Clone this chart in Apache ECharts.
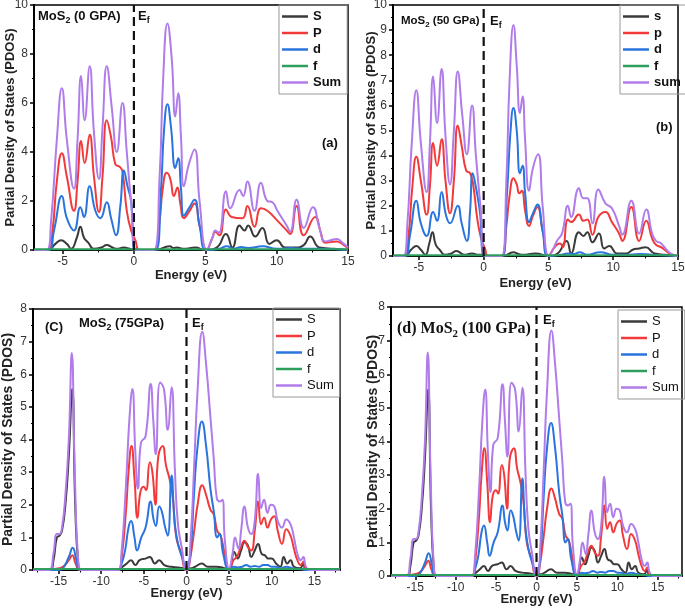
<!DOCTYPE html>
<html>
<head>
<meta charset="UTF-8">
<title>MoS2 PDOS</title>
<script src="https://cdn.jsdelivr.net/npm/echarts@6/dist/echarts.min.js"></script>
</head>
<body style="margin:0;background:#fff">
<div id="main" style="width:685px;height:613px;"></div>
<script type="text/javascript">
var myChart = echarts.init(document.getElementById('main'));

// ---- data: [energy (eV), PDOS] ----
// (a) 0 GPa
var aS = [[-7,0],[-6.0,0],[-5.5,0.25],[-5.1,0.4],[-4.7,0.25],[-4.4,0.05],[-4.0,0.5],[-3.75,0.95],[-3.5,0.5],[-3.2,0.3],[-2.8,0.05],[-2.3,0.1],[-1.9,0.2],[-1.5,0.1],[-1.2,0.05],[-0.7,0.1],[-0.3,0.05],[0,0],[1.5,0],[2.5,0.15],[2.8,0.08],[3.0,0.1],[3.5,0.05],[4.3,0.1],[5,0],[5.8,0.1],[6.45,0.65],[6.9,0.1],[7.4,1.0],[7.75,0.8],[8.0,1.0],[8.5,0.55],[9.0,0.9],[9.5,0.25],[10.0,0.4],[10.6,0.1],[11.3,0.1],[11.9,0.2],[12.35,0.55],[13.0,0.1],[14,0.05],[15,0]];
var aP = [[-7,0],[-6.0,0],[-5.7,0.8],[-5.4,2.8],[-5.05,3.95],[-4.7,3.0],[-4.2,1.6],[-3.95,2.8],[-3.7,4.45],[-3.45,3.55],[-3.1,4.7],[-2.8,3.0],[-2.45,1.55],[-2.2,3.0],[-1.9,5.3],[-1.6,4.6],[-1.3,3.5],[-1.0,3.4],[-0.8,3.2],[-0.5,1.6],[-0.2,0.8],[0.1,0.4],[0.4,0],[1.4,0],[1.8,1.2],[2.0,2.4],[2.3,3.15],[2.55,2.9],[2.8,2.2],[3.05,2.55],[3.25,1.9],[3.5,1.3],[3.85,1.55],[4.25,1.9],[4.6,1.0],[5.1,0],[5.5,0.5],[5.7,0.75],[6.0,0.6],[6.45,1.65],[6.85,1.35],[7.6,1.3],[7.95,1.8],[8.45,0.95],[8.9,1.7],[9.35,1.6],[10.05,1.2],[10.7,0.8],[10.95,0.65],[11.4,1.8],[11.9,0.6],[12.7,1.35],[13.1,0.7],[13.4,0.3],[14.2,0.35],[14.6,0.25],[15,0.05]];
var aD = [[-7,0],[-6.0,0],[-5.6,0.8],[-5.05,2.2],[-4.7,1.3],[-4.2,0.8],[-3.75,1.75],[-3.5,1.35],[-3.1,2.6],[-2.7,1.6],[-2.35,1.3],[-1.9,1.95],[-1.6,1.3],[-1.25,0.6],[-0.95,1.8],[-0.7,3.25],[-0.45,2.6],[-0.2,2.0],[0.1,0],[1.5,0],[1.9,2.5],[2.1,4.8],[2.35,5.95],[2.6,5.0],[2.9,3.35],[3.1,3.75],[3.3,2.5],[3.5,1.4],[3.85,1.7],[4.25,2.05],[4.6,1.0],[5.1,0],[6.0,0.05],[6.5,0.15],[7.0,0.05],[7.5,0.12],[8.0,0.08],[9.0,0.15],[10,0.05],[11,0.08],[12,0.05],[13,0.05],[15,0]];
var aF = [[-7,0.03],[15,0.03]];
var aSum = [[-7,0],[-6.1,0],[-5.8,1.2],[-5.4,4.5],[-5.05,6.6],[-4.7,4.5],[-4.2,2.5],[-3.95,4.5],[-3.7,7.1],[-3.45,5.3],[-3.1,7.5],[-2.8,4.8],[-2.45,2.9],[-2.2,5.0],[-1.9,7.5],[-1.55,5.8],[-1.2,4.0],[-0.8,6.0],[-0.5,4.0],[-0.2,2.0],[0.2,0],[1.4,0],[1.8,3.0],[2.05,7.0],[2.35,9.25],[2.65,7.8],[2.9,5.45],[3.1,6.4],[3.3,4.6],[3.5,2.6],[3.85,3.5],[4.25,4.1],[4.6,2.0],[5.1,0],[5.5,0.5],[5.7,0.8],[5.95,0.7],[6.45,2.4],[6.75,1.7],[7.4,2.45],[7.65,2.2],[7.95,2.8],[8.45,1.6],[8.9,2.75],[9.35,2.0],[9.7,1.95],[10.05,1.6],[10.7,1.0],[10.95,0.75],[11.4,2.05],[11.9,0.9],[12.55,1.75],[13.0,0.9],[13.4,0.35],[13.8,0.4],[14.2,0.45],[14.6,0.3],[15,0.1]];

// (b) 50 GPa
var bS = [[-7,0],[-6.1,0],[-5.6,0.25],[-5.2,0.4],[-4.85,0.25],[-4.5,0.05],[-4.2,0.5],[-3.95,0.95],[-3.7,0.45],[-3.4,0.25],[-3.0,0.05],[-2.5,0.1],[-2.1,0.2],[-1.5,0.05],[-0.9,0.1],[-0.4,0.05],[0,0.05],[0.3,0],[1.5,0],[2.3,0.15],[2.7,0.08],[3.0,0.05],[4.0,0.1],[5,0],[5.7,0.1],[6.4,0.6],[6.75,0.1],[7.35,0.95],[7.7,0.8],[8.0,0.95],[8.4,0.55],[8.9,0.9],[9.3,0.3],[9.7,0.4],[10.3,0.1],[11.0,0.1],[11.5,0.25],[12.0,0.3],[12.5,0.35],[13.2,0.1],[14,0.05],[15,0]];
var bP = [[-7,0],[-6.1,0],[-5.8,0.8],[-5.5,2.8],[-5.2,3.95],[-4.85,3.0],[-4.4,1.65],[-4.15,2.8],[-3.9,4.5],[-3.6,3.6],[-3.25,4.65],[-2.95,3.0],[-2.6,1.7],[-2.3,3.0],[-2.0,5.2],[-1.7,4.4],[-1.35,3.4],[-1.05,3.3],[-0.8,2.8],[-0.5,1.5],[-0.2,0.7],[0.1,0.3],[0.35,0],[1.4,0],[1.75,1.2],[2.0,2.4],[2.3,3.1],[2.55,2.85],[2.75,2.5],[2.95,2.6],[3.2,1.8],[3.5,1.2],[3.8,1.6],[4.15,1.95],[4.55,1.0],[5.0,0],[5.4,0.3],[5.65,0.45],[5.9,0.5],[6.1,0.35],[6.5,1.45],[6.75,1.35],[7.35,1.65],[7.7,1.4],[8.0,1.45],[8.4,0.85],[8.85,1.55],[9.4,1.75],[9.9,1.35],[10.45,0.9],[10.7,0.6],[11.4,1.95],[12.0,0.6],[12.55,1.4],[13.0,0.7],[13.3,0.45],[13.7,0.35],[14.2,0.15],[14.6,0.02],[15,0]];
var bD = [[-7,0],[-6.1,0],[-5.7,0.8],[-5.2,2.2],[-4.85,1.3],[-4.4,0.8],[-3.9,1.75],[-3.6,1.4],[-3.25,2.55],[-2.9,1.6],[-2.6,1.3],[-2.0,2.0],[-1.7,1.3],[-1.3,0.6],[-1.05,1.8],[-0.85,3.3],[-0.55,2.6],[-0.3,1.8],[0.1,0],[1.4,0],[1.8,2.5],[2.05,4.8],[2.3,5.9],[2.55,5.0],[2.8,3.3],[3.0,3.6],[3.2,2.5],[3.5,1.35],[3.8,1.7],[4.15,2.05],[4.55,1.0],[5.0,0],[6,0.05],[6.5,0.1],[7.0,0.08],[7.4,0.15],[8,0.05],[9,0.15],[10,0.05],[11,0.05],[12,0.08],[13,0.05],[15,0]];
var bF = [[-7,0.03],[15,0.03]];
var bSum = [[-7,0],[-6.2,0],[-5.9,1.2],[-5.55,4.5],[-5.2,6.6],[-4.85,4.5],[-4.4,2.55],[-4.15,4.5],[-3.9,7.15],[-3.6,5.3],[-3.25,7.45],[-2.95,4.8],[-2.6,2.85],[-2.3,5.0],[-2.0,7.35],[-1.65,5.6],[-1.3,4.05],[-0.9,6.0],[-0.6,4.0],[-0.25,2.0],[0.15,0],[1.4,0],[1.75,3.0],[2.0,7.0],[2.3,9.2],[2.55,7.6],[2.8,5.7],[3.0,6.35],[3.2,4.6],[3.5,2.6],[3.8,3.5],[4.2,4.05],[4.55,2.0],[5.0,0],[5.3,0.2],[5.65,0.6],[6.05,0.9],[6.5,2.0],[6.75,1.55],[7.35,2.7],[7.7,2.3],[8.0,2.3],[8.4,1.3],[8.85,2.65],[9.4,2.1],[9.9,1.9],[10.45,1.2],[10.7,0.85],[11.4,2.2],[12.0,0.9],[12.55,1.85],[13.0,0.9],[13.3,0.6],[13.7,0.5],[14.2,0.2],[14.6,0.05],[15,0]];

// (c) 75 GPa and (d) 100 GPa look the same
var cS = [[-18,0],[-16,0],[-15.6,0.3],[-15.2,1.0],[-14.9,1.05],[-14.6,1.2],[-14.2,2.0],[-13.8,3.5],[-13.4,5.55],[-13.05,2.0],[-12.7,0.2],[-12.4,0],[-8.0,0],[-7.5,0.1],[-7.0,0.2],[-6.5,0.3],[-6.0,0.15],[-5.5,0.3],[-4.8,0.35],[-4.3,0.4],[-3.7,0.2],[-3.2,0.3],[-2.6,0.15],[-1.8,0.1],[-1.0,0.08],[0,0.05],[0.5,0.05],[1.0,0.1],[1.8,0.2],[2.5,0.1],[3.5,0.1],[4.5,0.05],[5.0,0],[5.6,0.55],[6.0,0.35],[6.4,0.6],[6.8,0.85],[7.2,0.75],[7.6,0.4],[8.0,0.6],[8.4,0.8],[8.8,0.5],[9.2,0.45],[9.6,0.35],[10.0,0.35],[10.5,0.2],[11.0,0.1],[11.4,0.4],[11.8,0.2],[12.2,0.3],[12.6,0.1],[13.3,0.05],[13.7,0.2],[14.0,0],[18,0]];
var cP = [[-18,0],[-16,0],[-15.5,0.03],[-14.5,0.1],[-13.8,0.3],[-13.4,0.45],[-13.0,0.2],[-12.5,0],[-8.0,0],[-7.6,0.4],[-7.1,1.8],[-6.8,3.0],[-6.45,3.8],[-6.1,2.8],[-5.75,1.6],[-5.4,2.4],[-5.0,2.55],[-4.75,2.45],[-4.3,3.3],[-4.0,3.0],[-3.65,2.0],[-3.3,3.5],[-2.8,3.8],[-2.4,3.2],[-2.0,2.8],[-1.6,2.2],[-1.2,1.0],[-0.6,0.5],[-0.1,0],[0.1,0],[0.4,0.3],[0.9,1.2],[1.3,2.0],[1.85,2.6],[2.3,2.3],[2.8,1.85],[3.2,1.7],[3.6,1.2],[4.0,1.05],[4.4,0.6],[5.0,0],[5.5,0.3],[5.9,0.4],[6.3,0.65],[6.8,0.9],[7.2,0.7],[7.6,0.6],[8.0,1.2],[8.4,2.1],[8.75,1.4],[9.1,1.6],[9.5,1.3],[9.9,1.55],[10.3,1.65],[10.7,1.2],[11.2,0.8],[11.7,1.25],[12.2,1.05],[12.6,0.65],[13.0,0.3],[13.4,0.15],[13.7,0.25],[14.0,0.05],[14.5,0],[18,0]];
var cD = [[-18,0],[-15,0],[-14.5,0.05],[-13.8,0.4],[-13.35,0.68],[-12.9,0.3],[-12.5,0],[-8.0,0],[-7.6,0.2],[-7.2,0.6],[-6.8,1.3],[-6.5,1.5],[-6.1,1.0],[-5.8,0.6],[-5.3,1.0],[-4.8,1.3],[-4.2,2.1],[-3.9,1.6],[-3.6,1.35],[-3.2,1.95],[-2.9,1.8],[-2.5,1.3],[-2.2,1.05],[-1.75,2.9],[-1.4,1.5],[-1.0,0.8],[-0.4,0.3],[0,0],[0.2,0.1],[0.5,0.6],[0.9,2.4],[1.3,3.8],[1.8,4.55],[2.3,3.8],[2.8,2.5],[3.2,1.8],[3.6,1.0],[3.9,1.1],[4.3,0.5],[5.0,0],[5.5,0.1],[6.0,0.08],[6.5,0.1],[7.0,0.15],[7.5,0.1],[8.0,0.12],[8.5,0.1],[9.0,0.15],[9.5,0.15],[10.0,0.1],[10.5,0.1],[11.0,0.05],[11.7,0.1],[12.5,0.05],[13.5,0.02],[14,0],[18,0]];
var cF = [[-18,0.03],[18,0.03]];
var cSum = [[-18,0],[-16.1,0],[-15.6,0.5],[-15.2,1.1],[-14.9,1.1],[-14.6,1.3],[-14.2,2.3],[-13.8,4.0],[-13.45,6.65],[-13.1,3.0],[-12.7,0.3],[-12.3,0],[-8.0,0],[-7.6,0.6],[-7.1,2.6],[-6.7,4.6],[-6.35,5.55],[-6.0,3.6],[-5.7,2.5],[-5.35,3.9],[-4.8,4.1],[-4.2,5.7],[-3.9,4.6],[-3.6,3.55],[-3.1,5.75],[-2.65,5.55],[-2.2,4.3],[-1.75,5.6],[-1.35,3.0],[-1.0,1.4],[-0.5,0.6],[-0.1,0],[0.1,0],[0.5,1.0],[0.9,3.2],[1.3,5.5],[1.85,7.3],[2.3,6.3],[2.8,4.7],[3.2,3.4],[3.55,2.2],[3.9,2.1],[4.2,2.15],[4.5,0.9],[5.0,0.05],[5.4,0.5],[5.7,1.0],[6.1,0.65],[6.4,1.2],[6.8,1.95],[7.2,1.3],[7.6,1.1],[8.0,1.5],[8.4,2.95],[8.75,1.9],[9.1,2.15],[9.5,1.75],[9.9,2.0],[10.3,1.95],[10.7,1.5],[11.2,1.3],[11.7,1.55],[12.2,1.4],[12.6,1.0],[13.0,0.5],[13.4,0.3],[13.7,0.4],[14.0,0.1],[14.5,0],[18,0]];

var namesUpper = ['S', 'P', 'd', 'f', 'Sum'];
var namesLower = ['s', 'p', 'd', 'f', 'sum'];
var ticksAB = [-5, 0, 5, 10, 15];
var minorAB = [-2.5, 2.5, 7.5, 12.5];
var ticksCD = [-15, -10, -5, 0, 5, 10, 15];
var minorCD = [-17.5, -12.5, -7.5, -2.5, 2.5, 7.5, 12.5, 17.5];

var colors = ['#3a3a3a', '#f23a3a', '#2a74de', '#2e9e5c', '#b07cea'];
var font = 'Liberation Sans, Arial, sans-serif';

var panels = [
    {grid: {left: 34, top: 5, width: 314, height: 245}, xr: [-7, 15], ymax: 10, yint: 2, ticks: ticksAB, minor: minorAB,
     data: [aS, aP, aD, aF, aSum], names: namesUpper, yGap: 17, xGap: 19, nameSize: 13},
    {grid: {left: 393, top: 5, width: 285, height: 251}, xr: [-7, 15], ymax: 10, yint: 1, ticks: ticksAB, minor: minorAB,
     data: [bS, bP, bD, bF, bSum], names: namesLower, yGap: 15, xGap: 21, nameSize: 13},
    {grid: {left: 33, top: 309, width: 307, height: 261}, xr: [-18, 18], ymax: 8, yint: 1, ticks: ticksCD, minor: minorCD,
     data: [cS, cP, cD, cF, cSum], names: namesUpper, yGap: 18, xGap: 17, nameSize: 14},
    {grid: {left: 391, top: 307, width: 291, height: 269}, xr: [-18, 18], ymax: 8, yint: 1, ticks: ticksCD, minor: minorCD,
     data: [cS, cP, cD, cF, cSum], names: namesUpper, yGap: 11, xGap: 17, nameSize: 14}
];

var legendPos = [
    {left: 279, top: 5, bold: true},
    {left: 620, top: 5, bold: true},
    {left: 273, top: 308, bold: false},
    {left: 618, top: 310, bold: false}
];

var grids = [], xAxes = [], yAxes = [], series = [], legends = [];
panels.forEach(function (p, i) {
    grids.push(Object.assign({show: true, borderColor: '#000', borderWidth: 1.5, outerBoundsMode: 'none'}, p.grid));
    xAxes.push({
        type: 'value', gridIndex: i, min: p.xr[0], max: p.xr[1],
        axisLine: {onZero: false, lineStyle: {color: '#000', width: 2}},
        axisTick: {customValues: p.ticks, length: 4, lineStyle: {color: '#000', width: 1.5}},
        axisLabel: {customValues: p.ticks, color: '#333', fontSize: 12, fontFamily: font, margin: 6},
        splitLine: {show: false},
        name: 'Energy (eV)', nameLocation: 'middle', nameGap: p.xGap, nameMoveOverlap: false,
        nameTextStyle: {fontWeight: 'bold', fontSize: 13, color: '#222', fontFamily: font}
    });
    yAxes.push({
        type: 'value', gridIndex: i, min: 0, max: p.ymax, interval: p.yint,
        axisLine: {onZero: false, lineStyle: {color: '#000', width: 2}},
        axisTick: {length: 4, lineStyle: {color: '#000', width: 1.5}},
        minorTick: {show: true, splitNumber: 2, length: 2, lineStyle: {color: '#000', width: 1}},
        axisLabel: {color: '#333', fontSize: 12, fontFamily: font, margin: 6},
        splitLine: {show: false},
        name: 'Partial Density of States (PDOS)', nameLocation: 'middle', nameGap: p.yGap, nameMoveOverlap: false,
        nameTextStyle: {fontWeight: 'bold', fontSize: p.nameSize, color: '#222', fontFamily: font}
    });
    p.data.forEach(function (d, k) {
        series.push({
            type: 'line', name: p.names[k], xAxisIndex: i, yAxisIndex: i, data: d,
            smooth: 0.5, showSymbol: false, symbol: 'none', silent: true,
            lineStyle: {color: colors[k], width: 2}, itemStyle: {color: colors[k]}, z: k === 3 ? 4 : 2
        });
    });
    // Fermi level
    series.push({
        type: 'line', name: 'Ef', xAxisIndex: i, yAxisIndex: i, data: [[0, 0], [0, p.ymax]],
        showSymbol: false, symbol: 'none', silent: true, z: 5,
        lineStyle: {color: '#111', width: 2.2, type: [9, 5]}
    });
    var lp = legendPos[i];
    legends.push({
        data: p.names, orient: 'vertical', left: lp.left, top: lp.top,
        icon: 'rect', itemWidth: 26, itemHeight: 2.5, itemGap: 3.5,
        padding: [5, 6, 5, 3], borderColor: '#999', borderWidth: 1,
        selectedMode: false,
        textStyle: {fontSize: 13, lineHeight: 13, fontWeight: lp.bold ? 'bold' : 'normal', color: '#111', fontFamily: font}
    });
});

// extra x axes only for the minor ticks
panels.forEach(function (p, i) {
    xAxes.push({
        type: 'value', gridIndex: i, min: p.xr[0], max: p.xr[1], position: 'bottom',
        axisLine: {show: false, onZero: false}, axisLabel: {show: false}, splitLine: {show: false},
        axisTick: {customValues: p.minor, length: 2.5, lineStyle: {color: '#000', width: 1}}
    });
});

function rich(size, family) {
    return {
        m: {fontSize: size, fontWeight: 'bold', fontFamily: family, lineHeight: size + 5, fill: '#111'},
        s: {fontSize: size * 0.68, fontWeight: 'bold', fontFamily: family, lineHeight: size * 0.68, verticalAlign: 'bottom', fill: '#111'}
    };
}
function label(x, y, text, size, family) {
    return {type: 'text', x: x, y: y, silent: true, z: 10,
        style: {text: text, rich: rich(size, family || font), verticalAlign: 'middle', fill: '#111'}};
}

var option = {
    backgroundColor: '#fff',
    animation: false,
    grid: grids, xAxis: xAxes, yAxis: yAxes, series: series, legend: legends,
    graphic: [
        label(38, 16, '{m|MoS}{s|2}{m| (0 GPA)}', 13),
        label(138, 16, '{m|E}{s|f}', 13),
        label(322, 143, '{m|(a)}', 13),
        label(401, 21, '{m|MoS}{s|2}{m| (50 GPa)}', 11.5),
        label(490, 21, '{m|E}{s|f}', 13),
        label(656, 127, '{m|(b)}', 13),
        label(45, 327, '{m|(C)}', 13),
        label(79, 323, '{m|MoS}{s|2}{m| (75GPa)}', 13),
        label(192, 323, '{m|E}{s|f}', 13),
        label(397, 329, '{m|(d) MoS}{s|2}{m| (100 GPa)}', 16, 'Liberation Serif, Times New Roman, serif'),
        label(543, 320, '{m|E}{s|f}', 13)
    ]
};
myChart.setOption(option);
</script>
</body>
</html>
